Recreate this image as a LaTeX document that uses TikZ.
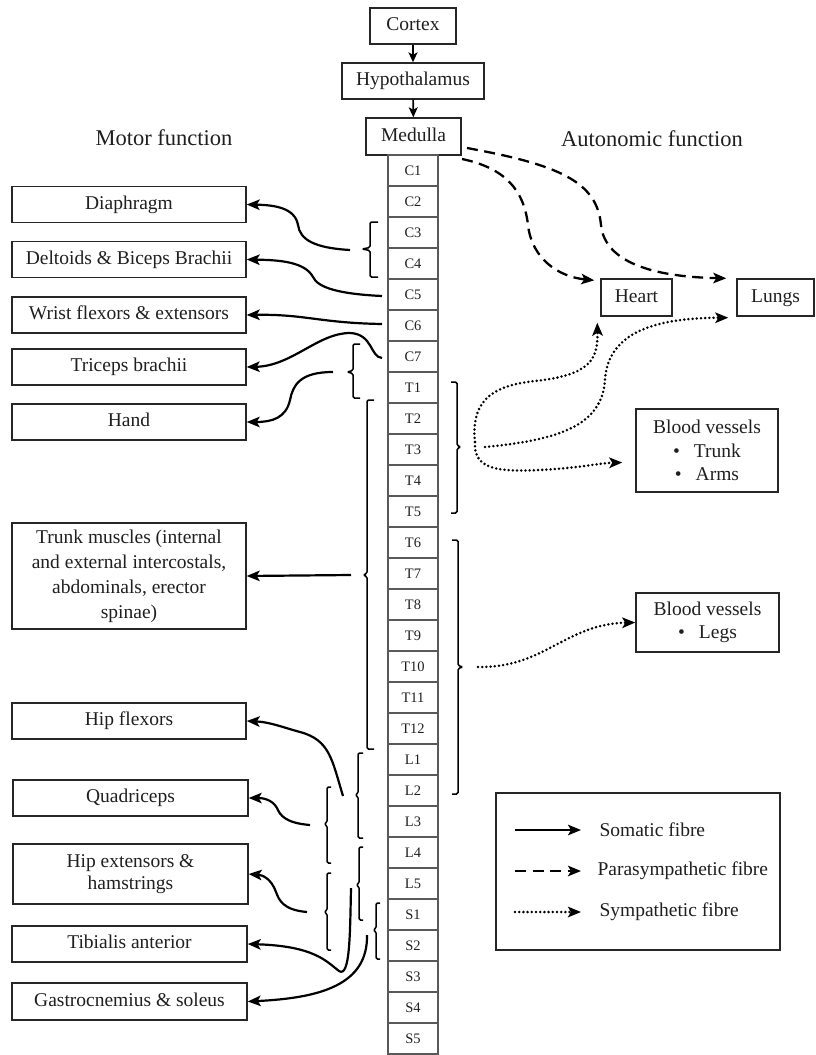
\documentclass[tikz,border=0pt]{standalone}
\usepackage{fontspec}
\setmainfont{Liberation Serif}
\usetikzlibrary{arrows.meta,calc}
\newcommand{\brL}[6]{\draw[brk] (#1+#6,#2) -- (#1,#2) -- (#1,#4-1.5) -- (#1-#5,#4) -- (#1,#4+1.5) -- (#1,#3) -- (#1+#6,#3);}
\newcommand{\brR}[6]{\draw[brk] (#1-#6,#2) -- (#1,#2) -- (#1,#4-1.5) -- (#1+#5,#4) -- (#1,#4+1.5) -- (#1,#3) -- (#1-#6,#3);}
\tikzset{
  box/.style={draw=black!85, line width=1.4pt, minimum height=36pt, inner sep=2pt,
    font=\fontsize{19.5}{24}\selectfont, align=center, text=black!88},
  one/.style={text height=13.5pt, text depth=4pt},
  mbox/.style={box, minimum width=234pt},
  seg/.style={draw=black!65, line width=1.1pt, minimum width=50pt, minimum height=31pt,
    inner sep=0pt, font=\fontsize{14.5}{15}\selectfont, text=black!88, text height=10pt, text depth=0pt},
  head/.style={font=\fontsize{22.5}{27}\selectfont, text=black!88},
  tipa/.style={-{Stealth[length=13pt,width=10.5pt,inset=3pt]}},
  som/.style={line width=2.2pt, tipa},
  para/.style={line width=2.3pt, dash pattern=on 11pt off 6.5pt, tipa},
  symp/.style={line width=2.8pt, line cap=round, dash pattern=on 0pt off 4.2pt, tipa},
  brk/.style={line width=1.5pt, rounded corners=1.5pt},
  small/.style={line width=1.6pt, -{Stealth[length=10pt,width=9pt,inset=2.5pt]}},
  legtext/.style={anchor=west, font=\fontsize{19.5}{24}\selectfont, text=black!88}
}
\begin{document}
\begin{tikzpicture}[x=1pt,y=-1pt]
\useasboundingbox (0,0) rectangle (815,1055);
% brain
\node[box, one, minimum width=86pt] (cortex) at (413,26) {Cortex};
\node[box, one, minimum width=142pt] (hypo) at (413,81) {Hypothalamus};
\node[box, one, minimum width=95pt, minimum height=37pt] (medulla) at (413.5,136.5) {Medulla};
\draw[small] (cortex) -- (hypo);
\draw[small] (hypo) -- (medulla);
% spine
\foreach \lab [count=\i from 0] in {C1,C2,C3,C4,C5,C6,C7,T1,T2,T3,T4,T5,T6,T7,T8,T9,T10,T11,T12,L1,L2,L3,L4,L5,S1,S2,S3,S4,S5}
  \node[seg] (\lab) at (413,170.5+31*\i) {\lab};
% headings
\node[head] (hmotor) at (164,138) {Motor function};
\node[head] (hauto) at (652,139) {Autonomic function};
% left boxes
\node[mbox, one] (diaphragm) at (129,204.5) {Diaphragm};
\node[mbox, one] (deltoids) at (129,259.5) {Deltoids \& Biceps Brachii};
\node[mbox, one] (wrist) at (129,315) {Wrist flexors \& extensors};
\node[mbox, one] (triceps) at (129,367) {Triceps brachii};
\node[mbox, one] (hand) at (129,422) {Hand};
\node[mbox, minimum height=106pt, font=\fontsize{19.5}{25}\selectfont] (trunk) at (129,576)
  {Trunk muscles (internal\\and external intercostals,\\abdominals, erector\\spinae)};
\node[mbox, one] (hipflex) at (129,721) {Hip flexors};
\node[mbox, one, minimum width=235pt] (quad) at (130.5,798) {Quadriceps};
\node[mbox, minimum width=235pt, minimum height=60pt, font=\fontsize{19.5}{22}\selectfont] (hipext) at (130.5,874)
  {Hip extensors \&\\hamstrings};
\node[mbox, one, minimum width=235pt] (tib) at (129.5,944) {Tibialis anterior};
\node[mbox, one, minimum width=235pt, minimum height=37pt] (gastro) at (129.5,1001.5) {Gastrocnemius \& soleus};
% right boxes
\node[box, one, minimum width=71pt, minimum height=37pt] (heart) at (636.5,297.5) {Heart};
\node[box, one, minimum width=77pt, minimum height=37pt] (lungs) at (775.5,297.5) {Lungs};
\node[box, minimum width=142pt, minimum height=83pt, font=\fontsize{19.5}{23.5}\selectfont] (bv1) at (707,450.5)
  {Blood vessels\\\textbullet\hspace{14pt}Trunk\\\textbullet\hspace{14pt}Arms};
\node[box, minimum width=143pt, minimum height=59pt, font=\fontsize{19.5}{23.5}\selectfont] (bv2) at (707.5,622.5)
  {Blood vessels\\\textbullet\hspace{14pt}Legs};
% brackets
\brL{370}{222}{277}{249}{8}{8}
\brL{353}{344}{398}{372}{6}{7}
\brL{367}{400}{749}{575}{4}{7}
\brL{358}{753}{838}{795}{3}{5}
\brL{327}{787}{863}{824}{3}{4}
\brL{359}{847}{920}{885}{3}{4}
\brL{327}{873}{950}{912}{3}{4}
\brL{376}{903}{959}{930}{3}{4}
\brR{457}{382}{513}{447}{4}{6}
\brR{458}{540}{794}{667}{5}{6}
% somatic fibres
\coordinate (sDia) at (350,250);
\coordinate (sDel) at (382,296);
\coordinate (sWr) at (382,324);
\coordinate (sTri) at (382,358);
\coordinate (sHand) at (333,372);
\coordinate (sTr) at (351,575);
\coordinate (sHF) at (343,796);
\coordinate (sQ) at (310,825);
\coordinate (sHE) at (307,912);
\coordinate (sTib) at (351,888);
\coordinate (sGa) at (367,935);
\draw[som] (sDia) .. controls (315,248) and (300,240) .. (298,225) .. controls (295,208) and (275,205) .. (diaphragm.east);
\draw[som] (sDel) .. controls (340,294) and (318,288) .. (313,277) .. controls (305,262) and (280,260) .. (deltoids.east);
\draw[som] (sWr) .. controls (320,323) and (305,314) .. (wrist.east);
\draw[som] (sTri) .. controls (370,357) and (373,334) .. (350,333) .. controls (318,333) and (292,366) .. (triceps.east);
\draw[som] (sHand) .. controls (300,372) and (293,385) .. (290,400) .. controls (286,418) and (272,422) .. (hand.east);
\draw[som] (sTr) -- (trunk.east);
\draw[som] (sHF) .. controls (332,760) and (330,740) .. (300,732) .. controls (285,728) and (270,722) .. (hipflex.east);
\draw[som] (sQ) .. controls (285,823) and (280,815) .. (277,808) .. controls (272,799) and (262,798) .. (quad.east);
\draw[som] (sHE) .. controls (283,910) and (279,900) .. (276,892) .. controls (271,878) and (262,875) .. (hipext.east);
\draw[som] (sTib) .. controls (350,935) and (350,978) .. (339,971) .. controls (327,962) and (315,946) .. (tib.east);
\draw[som] (sGa) .. controls (368,985) and (320,998) .. (gastro.east);
% parasympathetic fibres
\coordinate (pL) at (467,148);
\coordinate (pH) at (462,159);
\draw[para] (pL) .. controls (560,165) and (597,182) .. (601,225) .. controls (605,265) and (660,277) .. ($(lungs.north west)+(-10,0)$);
\draw[para] (pH) .. controls (505,168) and (524,190) .. (528,225) .. controls (532,260) and (560,277) .. ($(heart.north west)+(-6,2)$);
% sympathetic fibres
\coordinate (sy1) at (475,442);
\coordinate (sy2) at (485,447);
\coordinate (sy3) at (478,667);
\draw[symp] (sy1) .. controls (470,395) and (500,385) .. (535,381) .. controls (590,375) and (598,360) .. ($(heart.south west)+(-3,6)$);
\draw[symp] (sy2) .. controls (560,440) and (602,425) .. (605,380) .. controls (608,330) and (660,318) .. ($(lungs.south west)+(-8,1)$);
\draw[symp] (sy1) .. controls (473,470) and (500,472) .. (540,470) .. controls (580,468) and (600,463) .. ($(bv1.west)+(-13,12)$);
\draw[symp] (sy3) .. controls (545,668) and (565,624) .. (bv2.west);
% legend
\node[draw=black!85, line width=1.4pt, minimum width=284pt, minimum height=157pt] (legend) at (638,871.5) {};
\coordinate (la1) at (515,830); \coordinate (lb1) at (581,830);
\coordinate (la2) at (515,871); \coordinate (lb2) at (581,871);
\coordinate (la3) at (515,912); \coordinate (lb3) at (581,912);
\draw[som] (la1) -- (lb1);
\draw[para] (la2) -- (lb2);
\draw[symp] (la3) -- (lb3);
\node[legtext] (lt1) at (596,830) {Somatic fibre};
\node[legtext] (lt2) at (594,871) {Parasympathetic fibre};
\node[legtext] (lt3) at (596,912) {Sympathetic fibre};
\end{tikzpicture}
\end{document}
